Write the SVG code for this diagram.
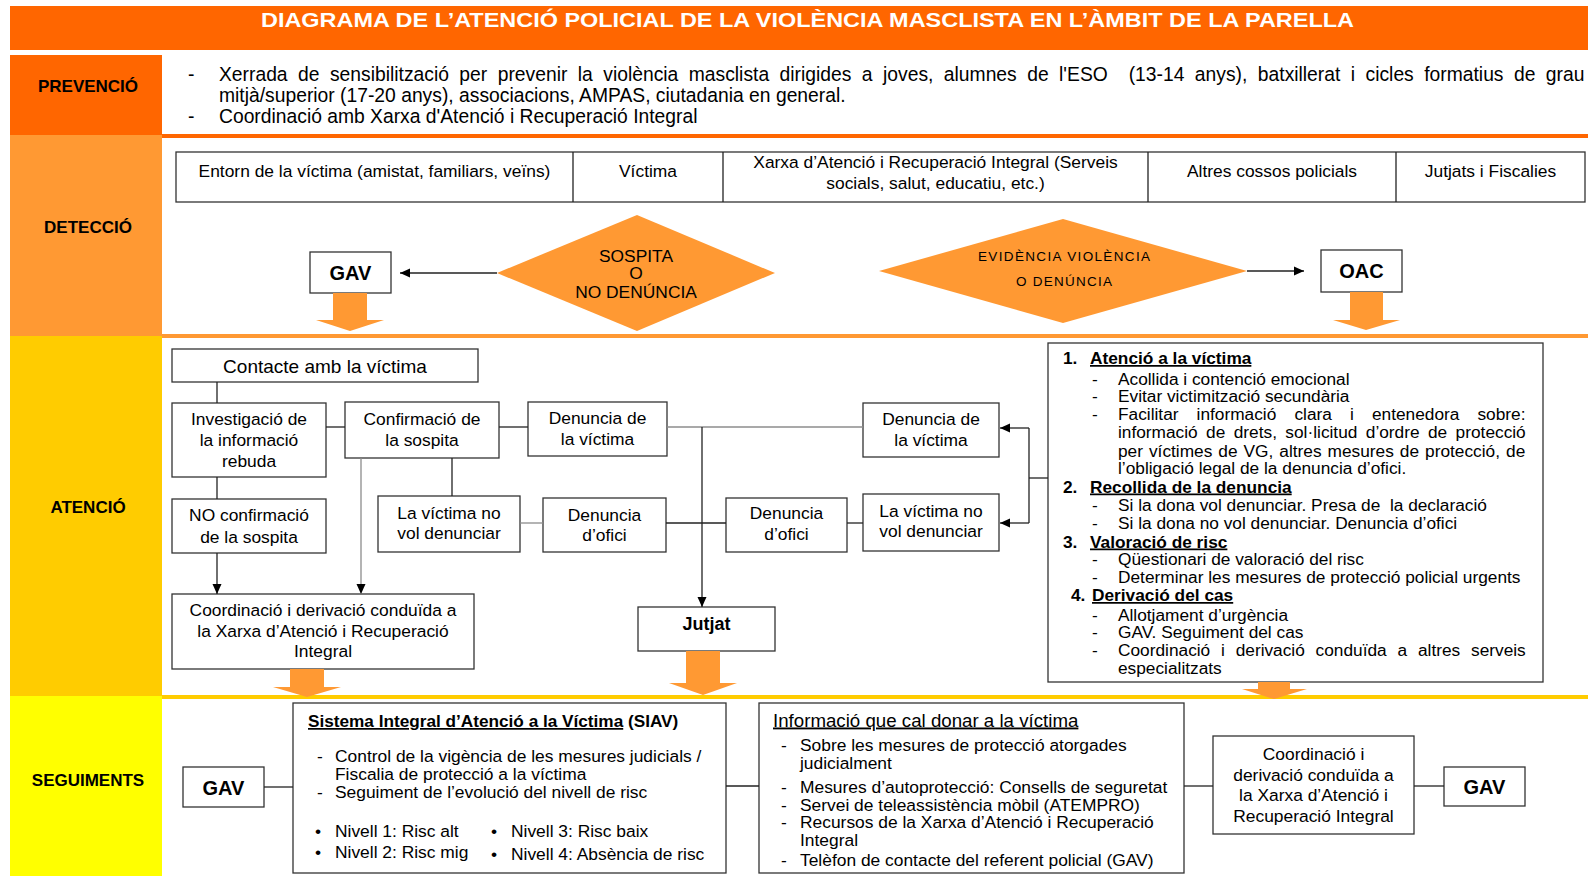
<svg xmlns="http://www.w3.org/2000/svg" width="1588" height="876" viewBox="0 0 1588 876">
<defs>
<style>
text{font-family:"Liberation Sans",Arial,sans-serif;fill:#000}
.s{font-size:17.4px}
.c{text-anchor:middle}
.b{font-weight:bold}
.box{fill:#fff;stroke:#333;stroke-width:1.3}
.ln{fill:none;stroke:#222;stroke-width:1.3}
.lg{fill:none;stroke:#8c8c8c;stroke-width:1.3}
.oa{fill:#FF9933}
.lab{font-size:17px;font-weight:bold;text-anchor:middle}
.li{font-size:17.3px}
.u{text-decoration:underline}
.big{font-size:20px;font-weight:bold;text-anchor:middle}
.pv{font-size:19.3px}
</style>
<marker id="ah" markerWidth="10" markerHeight="10" refX="10" refY="5" orient="auto" markerUnits="userSpaceOnUse"><path d="M0,0.5 L10,5 L0,9.5 z" fill="#000"/></marker>
</defs>
<rect x="0" y="0" width="1588" height="876" fill="#fff"/>
<g id="bands">
<rect x="10" y="6" width="1578" height="44" fill="#FF6600"/>
<rect x="10" y="55" width="152" height="80" fill="#FF6600"/>
<rect x="10" y="135" width="152" height="201" fill="#FF9933"/>
<rect x="10" y="336" width="152" height="360" fill="#FFCC00"/>
<rect x="10" y="696" width="152" height="180" fill="#FFFF00"/>
<rect x="162" y="134" width="1426" height="4" fill="#FF6600"/>
<rect x="162" y="334" width="1426" height="4" fill="#FF9933"/>
<rect x="162" y="695" width="1426" height="4" fill="#FFCC00"/>
<text x="261" y="27" font-size="20" font-weight="bold" style="fill:#fff" textLength="1093" lengthAdjust="spacingAndGlyphs">DIAGRAMA DE L’ATENCIÓ POLICIAL DE LA VIOLÈNCIA MASCLISTA EN L’ÀMBIT DE LA PARELLA</text>
<text class="lab" x="88" y="92">PREVENCIÓ</text>
<text class="lab" x="88" y="233">DETECCIÓ</text>
<text class="lab" x="88" y="513">ATENCIÓ</text>
<text class="lab" x="88" y="786">SEGUIMENTS</text>
</g>
<g id="prevencio">
<text class="pv" x="188" y="81">-</text>
<text class="pv" x="219" y="81" word-spacing="5.1" xml:space="preserve">Xerrada de sensibilització per prevenir la violència masclista dirigides a joves, alumnes de l'ESO  (13-14 anys), batxillerat i cicles formatius de grau</text>
<text class="pv" x="219" y="102">mitjà/superior (17-20 anys), associacions, AMPAS, ciutadania en general.</text>
<text class="pv" x="188" y="123">-</text>
<text class="pv" x="219" y="123">Coordinació amb Xarxa d'Atenció i Recuperació Integral</text>
</g>
<g id="deteccio-taula">
<rect class="box" x="176" y="152" width="1409" height="50"/>
<line class="ln" x1="573" y1="152" x2="573" y2="202"/>
<line class="ln" x1="723" y1="152" x2="723" y2="202"/>
<line class="ln" x1="1148" y1="152" x2="1148" y2="202"/>
<line class="ln" x1="1396" y1="152" x2="1396" y2="202"/>
<text class="s c" x="374.5" y="177">Entorn de la víctima (amistat, familiars, veïns)</text>
<text class="s c" x="648" y="177">Víctima</text>
<text class="s c" x="935.5" y="168">Xarxa d’Atenció i Recuperació Integral (Serveis</text>
<text class="s c" x="935.5" y="189">socials, salut, educatiu, etc.)</text>
<text class="s c" x="1272" y="177">Altres cossos policials</text>
<text class="s c" x="1490.5" y="177">Jutjats i Fiscalies</text>
</g>
<g id="sospita">
<polygon class="oa" points="637,215 775,273 637,331 497,273"/>
<text class="s c" x="636" y="262">SOSPITA</text>
<text class="s c" x="636" y="279">O</text>
<text class="s c" x="636" y="298">NO DENÚNCIA</text>
</g>
<g id="evidencia">
<polygon class="oa" points="1063,219 1247,271 1063,323 879,271"/>
<text x="978" y="261" font-size="13.5" textLength="172" lengthAdjust="spacing">EVIDÈNCIA VIOLÈNCIA</text>
<text x="1016" y="286" font-size="13.5" textLength="96" lengthAdjust="spacing">O DENÚNCIA</text>
</g>
<g id="gav-deteccio">
<rect class="box" x="310" y="252" width="81" height="41"/>
<text class="big" x="350.5" y="280">GAV</text>
</g>
<g id="oac">
<rect class="box" x="1321" y="250" width="81" height="42"/>
<text class="big" x="1361.5" y="278">OAC</text>
</g>
<g id="contacte">
<rect class="box" x="172" y="349" width="306" height="33"/>
<text class="c" x="325" y="373" font-size="19">Contacte amb la víctima</text>
</g>
<g id="investigacio">
<rect class="box" x="172" y="403" width="154" height="74"/>
<text class="s c" x="249" y="425">Investigació de</text>
<text class="s c" x="249" y="446">la informació</text>
<text class="s c" x="249" y="467">rebuda</text>
</g>
<g id="confirmacio">
<rect class="box" x="345" y="402" width="154" height="56"/>
<text class="s c" x="422" y="425">Confirmació de</text>
<text class="s c" x="422" y="446">la sospita</text>
</g>
<g id="denuncia-victima-1">
<rect class="box" x="528" y="402" width="139" height="54"/>
<text class="s c" x="597.5" y="424">Denuncia de</text>
<text class="s c" x="597.5" y="445">la víctima</text>
</g>
<g id="no-confirmacio">
<rect class="box" x="172" y="499" width="154" height="54"/>
<text class="s c" x="249" y="521">NO confirmació</text>
<text class="s c" x="249" y="543">de la sospita</text>
</g>
<g id="no-vol-1">
<rect class="box" x="378" y="496" width="142" height="56"/>
<text class="s c" x="449" y="519">La víctima no</text>
<text class="s c" x="449" y="539">vol denunciar</text>
</g>
<g id="ofici-1">
<rect class="box" x="543" y="498" width="123" height="54"/>
<text class="s c" x="604.5" y="521">Denuncia</text>
<text class="s c" x="604.5" y="541">d’ofici</text>
</g>
<g id="coordinacio-1">
<rect class="box" x="172" y="594" width="302" height="75"/>
<text class="s c" x="323" y="616">Coordinació i derivació conduïda a</text>
<text class="s c" x="323" y="637">la Xarxa d’Atenció i Recuperació</text>
<text class="s c" x="323" y="657">Integral</text>
</g>
<g id="ofici-2">
<rect class="box" x="726" y="498" width="121" height="54"/>
<text class="s c" x="786.5" y="519">Denuncia</text>
<text class="s c" x="786.5" y="540">d’ofici</text>
</g>
<g id="denuncia-victima-2">
<rect class="box" x="863" y="403" width="136" height="54"/>
<text class="s c" x="931" y="425">Denuncia de</text>
<text class="s c" x="931" y="446">la víctima</text>
</g>
<g id="no-vol-2">
<rect class="box" x="863" y="494" width="136" height="57"/>
<text class="s c" x="931" y="517">La víctima no</text>
<text class="s c" x="931" y="537">vol denunciar</text>
</g>
<g id="jutjat">
<rect class="box" x="638" y="607" width="137" height="44"/>
<text class="c b" x="706.5" y="630" font-size="18">Jutjat</text>
</g>
<g id="llista-atencio">
<rect class="box" x="1048" y="343" width="495" height="339"/>
<text class="li b" x="1063" y="364">1.</text>
<text class="li b u" x="1090" y="364">Atenció a la víctima</text>
<text class="li" x="1092" y="384.5">-</text><text class="li" x="1118" y="384.5">Acollida i contenció emocional</text>
<text class="li" x="1092" y="401.5">-</text><text class="li" x="1118" y="401.5">Evitar victimització secundària</text>
<text class="li" x="1092" y="419.5">-</text><text class="li" x="1118" y="419.5" word-spacing="13.3">Facilitar informació clara i entenedora sobre:</text>
<text class="li" x="1118" y="438" word-spacing="3.6">informació de drets, sol·licitud d’ordre de protecció</text>
<text class="li" x="1118" y="456.5" word-spacing="1.2">per víctimes de VG, altres mesures de protecció, de</text>
<text class="li" x="1118" y="473.5">l’obligació legal de la denuncia d’ofici.</text>
<text class="li b" x="1063" y="492.5">2.</text>
<text class="li b u" x="1090" y="492.5">Recollida de la denuncia</text>
<text class="li" x="1092" y="510.5">-</text><text class="li" x="1118" y="510.5" xml:space="preserve">Si la dona vol denunciar. Presa de  la declaració</text>
<text class="li" x="1092" y="529">-</text><text class="li" x="1118" y="529">Si la dona no vol denunciar. Denuncia d’ofici</text>
<text class="li b" x="1063" y="547.5">3.</text>
<text class="li b u" x="1090" y="547.5">Valoració de risc</text>
<text class="li" x="1092" y="564.5">-</text><text class="li" x="1118" y="564.5">Qüestionari de valoració del risc</text>
<text class="li" x="1092" y="582.5">-</text><text class="li" x="1118" y="582.5">Determinar les mesures de protecció policial urgents</text>
<text class="li b" x="1071" y="601">4.</text>
<text class="li b u" x="1092" y="601">Derivació del cas</text>
<text class="li" x="1092" y="620.5">-</text><text class="li" x="1118" y="620.5">Allotjament d’urgència</text>
<text class="li" x="1092" y="637.5">-</text><text class="li" x="1118" y="637.5">GAV. Seguiment del cas</text>
<text class="li" x="1092" y="655.5">-</text><text class="li" x="1118" y="655.5" word-spacing="6">Coordinació i derivació conduïda a altres serveis</text>
<text class="li" x="1118" y="673.5">especialitzats</text>
</g>
<g id="gav-seguiment-1">
<rect class="box" x="183" y="767" width="81" height="40"/>
<text class="big" x="223.5" y="794.5">GAV</text>
</g>
<g id="siav">
<rect class="box" x="293" y="703" width="433" height="170"/>
<text class="b" x="308" y="727" font-size="17.2"><tspan class="u">Sistema Integral d’Atenció a la Víctima</tspan> (SIAV)</text>
<text class="s" x="317" y="761.5">-</text><text class="s" x="335" y="761.5">Control de la vigència de les mesures judicials /</text>
<text class="s" x="335" y="780">Fiscalia de protecció a la víctima</text>
<text class="s" x="317" y="798">-</text><text class="s" x="335" y="798">Seguiment de l’evolució del nivell de risc</text>
<text class="s" x="315" y="837">•</text><text class="s" x="335" y="837">Nivell 1: Risc alt</text>
<text class="s" x="315" y="857.5">•</text><text class="s" x="335" y="857.5">Nivell 2: Risc mig</text>
<text class="s" x="491" y="837">•</text><text class="s" x="511" y="837">Nivell 3: Risc baix</text>
<text class="s" x="491" y="859.5">•</text><text class="s" x="511" y="859.5">Nivell 4: Absència de risc</text>
</g>
<g id="informacio">
<rect class="box" x="759" y="703" width="425" height="170"/>
<text class="u" x="773" y="726.5" font-size="18.7">Informació que cal donar a la víctima</text>
<text class="s" x="781" y="751">-</text><text class="s" x="800" y="751">Sobre les mesures de protecció atorgades</text>
<text class="s" x="800" y="769">judicialment</text>
<text class="s" x="781" y="792.5">-</text><text class="s" x="800" y="792.5">Mesures d’autoprotecció: Consells de seguretat</text>
<text class="s" x="781" y="810.5">-</text><text class="s" x="800" y="810.5">Servei de teleassistència mòbil (ATEMPRO)</text>
<text class="s" x="781" y="828">-</text><text class="s" x="800" y="828">Recursos de la Xarxa d’Atenció i Recuperació</text>
<text class="s" x="800" y="846">Integral</text>
<text class="s" x="781" y="865.5">-</text><text class="s" x="800" y="865.5">Telèfon de contacte del referent policial (GAV)</text>
</g>
<g id="coordinacio-2">
<rect class="box" x="1213" y="736" width="201" height="98"/>
<text class="s c" x="1313.5" y="759.5">Coordinació i</text>
<text class="s c" x="1313.5" y="780.5">derivació conduïda a</text>
<text class="s c" x="1313.5" y="800.5">la Xarxa d’Atenció i</text>
<text class="s c" x="1313.5" y="821.5">Recuperació Integral</text>
</g>
<g id="gav-seguiment-2">
<rect class="box" x="1444" y="767" width="81" height="39"/>
<text class="big" x="1484.5" y="793.5">GAV</text>
</g>
<g id="connectors">
<line class="ln" x1="497" y1="273" x2="400" y2="273" marker-end="url(#ah)"/>
<line class="ln" x1="1247" y1="271" x2="1304" y2="271" marker-end="url(#ah)"/>
<line class="ln" x1="217" y1="382" x2="217" y2="403"/>
<line class="ln" x1="217" y1="477" x2="217" y2="499"/>
<line class="ln" x1="217" y1="553" x2="217" y2="594" marker-end="url(#ah)"/>
<line class="ln" x1="326" y1="427" x2="345" y2="427"/>
<line class="lg" x1="361" y1="458" x2="361" y2="594" marker-end="url(#ah)"/>
<line class="ln" x1="452" y1="458" x2="452" y2="496"/>
<line class="ln" x1="499" y1="427" x2="528" y2="427"/>
<line class="lg" x1="520" y1="523" x2="543" y2="523"/>
<line class="lg" x1="667" y1="427" x2="863" y2="427"/>
<line class="ln" x1="702" y1="427" x2="702" y2="607" marker-end="url(#ah)"/>
<line class="ln" x1="666" y1="523" x2="726" y2="523"/>
<line class="ln" x1="847" y1="523" x2="863" y2="523"/>
<polyline class="ln" points="1048,478 1029,478"/>
<polyline class="ln" points="1029,428 1029,523"/>
<line class="ln" x1="1029" y1="428" x2="1000" y2="428" marker-end="url(#ah)"/>
<line class="ln" x1="1029" y1="523" x2="1000" y2="523" marker-end="url(#ah)"/>
<line class="ln" x1="264" y1="787" x2="293" y2="787"/>
<line class="ln" x1="726" y1="786" x2="759" y2="786"/>
<line class="ln" x1="1184" y1="786" x2="1213" y2="786"/>
<line class="ln" x1="1414" y1="786" x2="1444" y2="786"/>
<polygon class="oa" points="333,293 367,293 367,320 384,320 350,331 316,320 333,320"/>
<polygon class="oa" points="1350,292 1383,292 1383,320 1400,320 1366,330 1333,320 1350,320"/>
<polygon class="oa" points="290,669 324,669 324,687 341,687 307,697 273,687 290,687"/>
<polygon class="oa" points="686,651 720,651 720,683 737,683 703,695 669,683 686,683"/>
<polygon class="oa" points="1258,682 1290,682 1290,689 1307,689 1274,699 1242,689 1258,689"/>
</g>
</svg>
